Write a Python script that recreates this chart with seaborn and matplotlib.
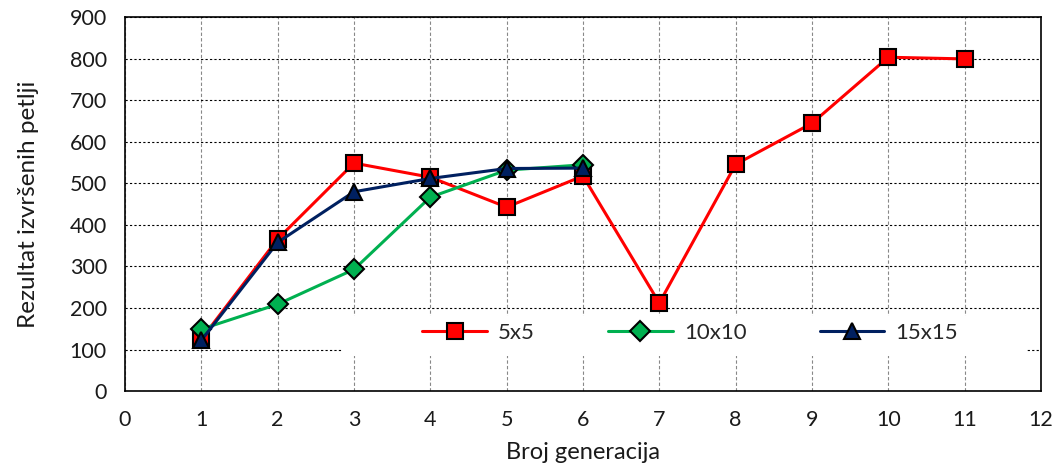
import matplotlib
matplotlib.use("Agg")
import matplotlib.pyplot as plt
from matplotlib.patches import Rectangle
import pandas as pd
import seaborn as sns

generations_5 = [1, 2, 3, 4, 5, 6, 7, 8, 9, 10, 11]
scores_5 = [125, 366, 549, 515, 443, 518, 212, 546, 645, 804, 800]
generations_10 = [1, 2, 3, 4, 5, 6]
scores_10 = [149, 209, 293, 467, 532, 545]
generations_15 = [1, 2, 3, 4, 5, 6]
scores_15 = [122, 358, 480, 512, 536, 537]

series_names = ["5x5", "10x10", "15x15"]
colors = ["#ff0000", "#00b050", "#002060"]
markers = ["s", "D", "^"]
marker_sizes = [11, 10, 12]

df = pd.concat(
    [
        pd.DataFrame({"gen": generations_5, "score": scores_5, "series": "5x5"}),
        pd.DataFrame({"gen": generations_10, "score": scores_10, "series": "10x10"}),
        pd.DataFrame({"gen": generations_15, "score": scores_15, "series": "15x15"}),
    ],
    ignore_index=True,
)

sns.set_style("white")
plt.rcParams["font.family"] = ["Lato", "DejaVu Sans"]

fig, ax = plt.subplots(figsize=(10.59, 4.70), dpi=100)
fig.subplots_adjust(left=0.118, right=0.983, top=0.963, bottom=0.168)

for name, color, marker, ms in zip(series_names, colors, markers, marker_sizes):
    sub = df[df["series"] == name]
    sns.lineplot(
        data=sub,
        x="gen",
        y="score",
        ax=ax,
        color=color,
        marker=marker,
        markersize=ms,
        markeredgecolor="black",
        markeredgewidth=1.5,
        linewidth=2.2,
        label=name,
        zorder=3,
    )

ax.set_xlim(0, 12)
ax.set_ylim(0, 900)
ax.set_xticks(range(0, 13))
ax.set_yticks(range(0, 1000, 100))

ax.yaxis.grid(True, color="black", linestyle=(0, (2, 2)), linewidth=0.8)
ax.xaxis.grid(True, color="#888888", linestyle=(0, (3, 2)), linewidth=0.8)
ax.set_axisbelow(True)

# white block behind the legend, covers the grid like in the original
ax.add_patch(Rectangle((0.237, 0.095), 0.748, 0.105, transform=ax.transAxes,
                       facecolor="white", edgecolor="none", zorder=1))

for side in ["left", "bottom", "top", "right"]:
    ax.spines[side].set_visible(True)
    ax.spines[side].set_color("black")
    ax.spines[side].set_linewidth(1.2)

ax.tick_params(axis="both", direction="out", length=5, width=1.2, labelsize=15.5,
               color="black", labelcolor="#1a1a1a")
ax.tick_params(axis="x", pad=9)
ax.tick_params(axis="y", pad=8)

ax.set_xlabel("Broj generacija", fontsize=17, color="#1a1a1a", labelpad=8)
ax.set_ylabel("Rezultat izvršenih petlji", fontsize=17.5, color="#1a1a1a", labelpad=22)

leg = ax.legend(
    ncol=3,
    loc="center",
    bbox_to_anchor=(0.617, 0.155),
    frameon=False,
    fontsize=16,
    handlelength=2.9,
    handletextpad=0.5,
    columnspacing=3.3,
)
leg.set_zorder(4)

plt.savefig("out.png", dpi=100)
plt.close()
